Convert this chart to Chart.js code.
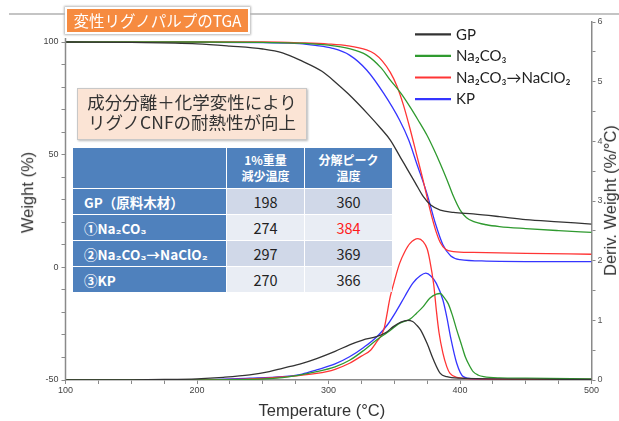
<!DOCTYPE html>
<html><head><meta charset="utf-8">
<script src="https://cdn.jsdelivr.net/npm/chart.js@4.4.1/dist/chart.umd.min.js"></script>
<style>
html,body{margin:0;padding:0;background:#fff;}
#wrap{position:relative;width:619px;height:421px;overflow:hidden;background:#fff;}
#c{position:absolute;left:0;top:0;}
.ov{position:absolute;}
#frame{left:9px;top:13px;width:610px;height:2px;background:#c4c4c4;}
#title{left:65px;top:7px;width:181px;height:23px;background:#F68B40;border:2px solid #fff;box-shadow:0 0 2px 1px #b8b8b8;color:#fff;font:15.5px "Noto Sans CJK JP",sans-serif;line-height:23px;text-align:center;white-space:nowrap;}
#note{left:77px;top:88px;width:228px;height:47px;background:#FBE4D5;border:1px solid #c8c8c8;box-shadow:1px 1px 2px #bbb;color:#333;font:17.5px "Noto Sans CJK JP",sans-serif;line-height:20px;text-align:center;padding-top:3px;box-sizing:content-box;white-space:nowrap;}
#tbl{left:73px;top:148px;width:319px;height:144px;display:grid;grid-template-columns:153px 77px 87px;grid-template-rows:40px 25px 25px 25px 25px;column-gap:1px;row-gap:1px;background:#fff;font-family:"Noto Sans CJK JP",sans-serif;}
#tbl div{display:flex;align-items:center;justify-content:center;white-space:nowrap;}
#tbl .h{background:#4F81BD;color:#fff;font-weight:bold;font-size:12px;line-height:16px;text-align:center;}
#tbl .r{background:#4F81BD;color:#fff;font-weight:bold;font-size:13.5px;justify-content:flex-start;padding-left:11px;}
#tbl .d{color:#222;font-size:14.5px;}
#tbl .odd{background:#D0D8E8;}
#tbl .even{background:#E9EDF4;}
.axt{font:16.5px "Liberation Sans",Arial,sans-serif;color:#333;white-space:nowrap;transform-origin:center center;}
</style></head><body>
<div id="wrap">
<div id="frame" class="ov"></div>
<canvas id="c" width="619" height="421"></canvas>
<div id="title" class="ov">変性リグノパルプのTGA</div>
<div id="note" class="ov">成分分離＋化学変性により<br>リグノCNFの耐熱性が向上</div>
<div id="tbl" class="ov"></div>
<div id="ytl" class="ov axt">Weight (%)</div>
<div id="xtl" class="ov axt">Temperature (°C)</div>
<div id="ytr" class="ov axt">Deriv. Weight (%/°C)</div>
</div>
<script>
// ---------- series names / colours ----------
const seriesNames = ['GP', 'Na₂CO₃', 'Na₂CO₃→NaClO₂', 'KP'];
const seriesColors = ['#333333', '#2f9a2f', '#ff3535', '#3535ff'];

// ---------- TGA weight curves (left axis, %) ----------
const gpWeightT = [100,150,200,225,250,265,280,295,305,315,330,340,347,355,360,366,372,378,385,395,410,430,450,475,500];
const gpWeight  = [100,99.8,99.2,98.2,96.9,95.2,91.5,87,82.3,77,68,61.5,56.5,48.5,43.5,37.5,31.5,27.5,25.4,24.4,23.7,22.5,21.2,20.2,19.2];

const naWeightT = [100,200,250,278,300,315,329,340,347,355,362,368,375,380,385,390,395,400,405,410,420,430,450,475,500];
const naWeight  = [100,100,99.8,99.5,98.6,97.2,94.2,88.5,83.1,77.3,71.2,65.5,58.5,52.5,46,39,31.5,25.5,22,20.4,18.9,18.1,17.2,16.3,15.5];

const naclWeightT = [100,250,280,300,315,329,335,341,347,352,357,362,367,372,376,379,382,385,389,395,410,450,500];
const naclWeight  = [100,100,99.6,99.1,98.3,96.5,94.8,91.5,86.5,80.5,72,61.5,50,38.5,28.5,21.5,15.5,11,8,7,6.6,6.2,5.8];

const kpWeightT = [100,200,250,278,290,303,316,329,342,354,361,367,375,381,387,393,400,420,500];
const kpWeight  = [100,99.9,99.7,99.3,98.5,97.2,94.2,87.6,77.2,65.4,56.5,46.2,32.5,20,10,5,3.4,2.8,2.5];

// ---------- DTG curves (right axis, %/°C) ----------
const gpDerivT = [100,150,175,200,220,240,255,265,280,291,305,316,326,337,344,349,355,360,364,367,370,375,380,385,390,400,450,500];
const gpDeriv  = [0,0.003,0.008,0.02,0.045,0.085,0.14,0.196,0.28,0.36,0.48,0.59,0.67,0.73,0.8,0.89,0.97,1.0,0.98,0.92,0.84,0.61,0.33,0.11,0.055,0.03,0.015,0.01];

const naDerivT = [100,200,240,265,291,305,316,327,337,345,354,362,367,372,377,382,385,388,391,394,397.5,401,404,407,410,414,418,430,450,500];
const naDeriv  = [0,0.003,0.01,0.04,0.14,0.22,0.33,0.5,0.68,0.8,0.95,1.02,1.12,1.23,1.37,1.44,1.45,1.38,1.28,1.1,0.84,0.6,0.39,0.25,0.14,0.08,0.055,0.035,0.03,0.02];

const naclDerivT = [100,200,240,265,291,305,316,325,332,337,342,347,350,354,358,362,368,372,375,377,380,382,384,387,390,392.4,397.5,410,500];
const naclDeriv  = [0,0.003,0.017,0.05,0.11,0.18,0.28,0.4,0.5,0.65,0.84,1.4,1.65,1.95,2.15,2.29,2.37,2.32,2.2,2.01,1.6,1.17,0.8,0.45,0.22,0.11,0.045,0.02,0.01];

const kpDerivT = [100,200,240,265,280,291,305,316,327,337,345,352,358,364,370,374,378,382,387,390,393,397.5,402.5,410,450,500];
const kpDeriv  = [0,0.005,0.03,0.056,0.1,0.17,0.27,0.39,0.55,0.73,0.93,1.17,1.4,1.62,1.75,1.79,1.74,1.62,1.34,1.05,0.7,0.28,0.056,0.02,0.01,0.005];

// ---------- tick values ----------
const xTicks = [100,125,150,175,200,225,250,275,300,325,350,375,400,425,450,475,500];
const xTickLabels = [100,200,300,400,500];
const weightTicks = [-50,-40,-30,-20,-10,0,10,20,30,40,50,60,70,80,90,100];
const weightTickLabels = [-50,0,50,100];
const derivTicks = [0,0.5,1,1.5,2,2.5,3,3.5,4,4.5,5,5.5,6];
const derivTickLabels = [0,1,2,3,4,5,6];

// ---------- summary table ----------
const tableHeaders = [['1%重量','減少温度'], ['分解ピーク','温度']];
const tableRowLabels = ['GP（原料木材）', '①Na₂CO₃', '②Na₂CO₃→NaClO₂', '③KP'];
const tableOnset = [198, 274, 297, 270];
const tablePeak = [360, 384, 369, 366];
const tableHighlight = [false, true, false, false];

// build table
(function(){
  const t = document.getElementById('tbl');
  const add = (cls, html, style) => { const d = document.createElement('div'); d.className = cls; d.innerHTML = html; if (style) d.style.cssText = style; t.appendChild(d); };
  add('h', '');
  tableHeaders.forEach(h => add('h', h.join('<br>')));
  tableRowLabels.forEach((lab, i) => {
    const bg = i % 2 === 0 ? 'odd' : 'even';
    add('r', lab);
    add('d ' + bg, String(tableOnset[i]));
    add('d ' + bg, String(tablePeak[i]), tableHighlight[i] ? 'color:#ff1a1a' : '');
  });
})();

// axis titles placement
(function(){
  const place = (id, cx, cy, rot) => {
    const e = document.getElementById(id);
    const w = e.offsetWidth, h = e.offsetHeight;
    e.style.left = (cx - w / 2) + 'px';
    e.style.top = (cy - h / 2) + 'px';
    if (rot) e.style.transform = 'rotate(' + rot + 'deg)';
  };
  place('ytl', 27, 192, -90);
  place('xtl', 322, 410, 0);
  place('ytr', 610, 200, -90);
})();

const mk = (T, V) => T.map((t, i) => ({x: t, y: V[i]}));
const line = (label, data, axis, color) => ({
  label, data, yAxisID: axis, borderColor: color, backgroundColor: color,
  borderWidth: 1.3, pointRadius: 0, fill: false, cubicInterpolationMode: 'monotone'
});

const datasets = [
  line(seriesNames[0], mk(gpWeightT, gpWeight), 'yL', seriesColors[0]),
  line(seriesNames[1], mk(naWeightT, naWeight), 'yL', seriesColors[1]),
  line(seriesNames[2], mk(naclWeightT, naclWeight), 'yL', seriesColors[2]),
  line(seriesNames[3], mk(kpWeightT, kpWeight), 'yL', seriesColors[3]),
  line(seriesNames[0] + ' DTG', mk(gpDerivT, gpDeriv), 'yR', seriesColors[0]),
  line(seriesNames[1] + ' DTG', mk(naDerivT, naDeriv), 'yR', seriesColors[1]),
  line(seriesNames[2] + ' DTG', mk(naclDerivT, naclDeriv), 'yR', seriesColors[2]),
  line(seriesNames[3] + ' DTG', mk(kpDerivT, kpDeriv), 'yR', seriesColors[3])
];

const tickFont = {size: 9, family: '"Liberation Sans", Arial, sans-serif'};
const axisGrid = {drawOnChartArea: false, drawTicks: true, tickLength: 4, color: '#8a8a8a', lineWidth: 1};

const deco = {
  id: 'deco',
  afterDatasetsDraw(chart) {
    const ctx = chart.ctx, yL = chart.scales.yL, x = chart.scales.x;
    ctx.save();
    // left axis line (only across the labelled range)
    ctx.strokeStyle = '#8a8a8a'; ctx.lineWidth = 1.5;
    ctx.beginPath();
    ctx.moveTo(x.left, yL.getPixelForValue(weightTicks[weightTicks.length - 1]) - 4);
    ctx.lineTo(x.left, yL.bottom + 0.75);
    ctx.stroke();
    // legend
    const lx = 415, ly0 = 34.3, dy = 21.6;
    ctx.font = '15px Lato, "Open Sans", sans-serif';
    ctx.textBaseline = 'middle';
    ctx.textAlign = 'left';
    for (let i = 0; i < 4; i++) {
      const ds = chart.data.datasets[i];
      const y = ly0 + i * dy;
      ctx.strokeStyle = ds.borderColor; ctx.lineWidth = 2.2;
      ctx.beginPath(); ctx.moveTo(lx, y); ctx.lineTo(lx + 36, y); ctx.stroke();
      ctx.fillStyle = '#222';
      ctx.fillText(ds.label, lx + 41, y + 0.5);
    }
    ctx.restore();
  }
};

new Chart(document.getElementById('c'), {
  type: 'line',
  data: {datasets},
  plugins: [deco],
  options: {
    responsive: false, animation: false, devicePixelRatio: 1,
    layout: {padding: {top: 22, left: 0, right: 0, bottom: 0}},
    plugins: {legend: {display: false}, tooltip: {enabled: false}},
    scales: {
      x: {
        type: 'linear', min: 100, max: 500,
        afterBuildTicks: s => { s.ticks = xTicks.map(v => ({value: v})); },
        afterFit: s => { s.height = 41; },
        ticks: {callback: v => xTickLabels.includes(v) ? String(v) : '', autoSkip: false, maxRotation: 0, font: tickFont, color: '#444', padding: 1},
        grid: axisGrid,
        border: {display: true, color: '#8a8a8a', width: 1.5}
      },
      yL: {
        type: 'linear', position: 'left', min: -50, max: 108.88,
        afterBuildTicks: s => { s.ticks = weightTicks.map(v => ({value: v})); },
        afterFit: s => { s.width = 65.5; },
        ticks: {callback: v => weightTickLabels.includes(v) ? String(v) : '', autoSkip: false, font: tickFont, color: '#444', padding: 3},
        grid: axisGrid,
        border: {display: false}
      },
      yR: {
        type: 'linear', position: 'right', min: 0, max: 6,
        afterBuildTicks: s => { s.ticks = derivTicks.map(v => ({value: v})); },
        afterFit: s => { s.width = 27.5; },
        ticks: {callback: v => derivTickLabels.includes(v) ? String(v) : '', autoSkip: false, font: tickFont, color: '#555', padding: 2},
        grid: axisGrid,
        border: {display: true, color: '#8a8a8a', width: 1.5}
      }
    }
  }
});
</script>
</body></html>
